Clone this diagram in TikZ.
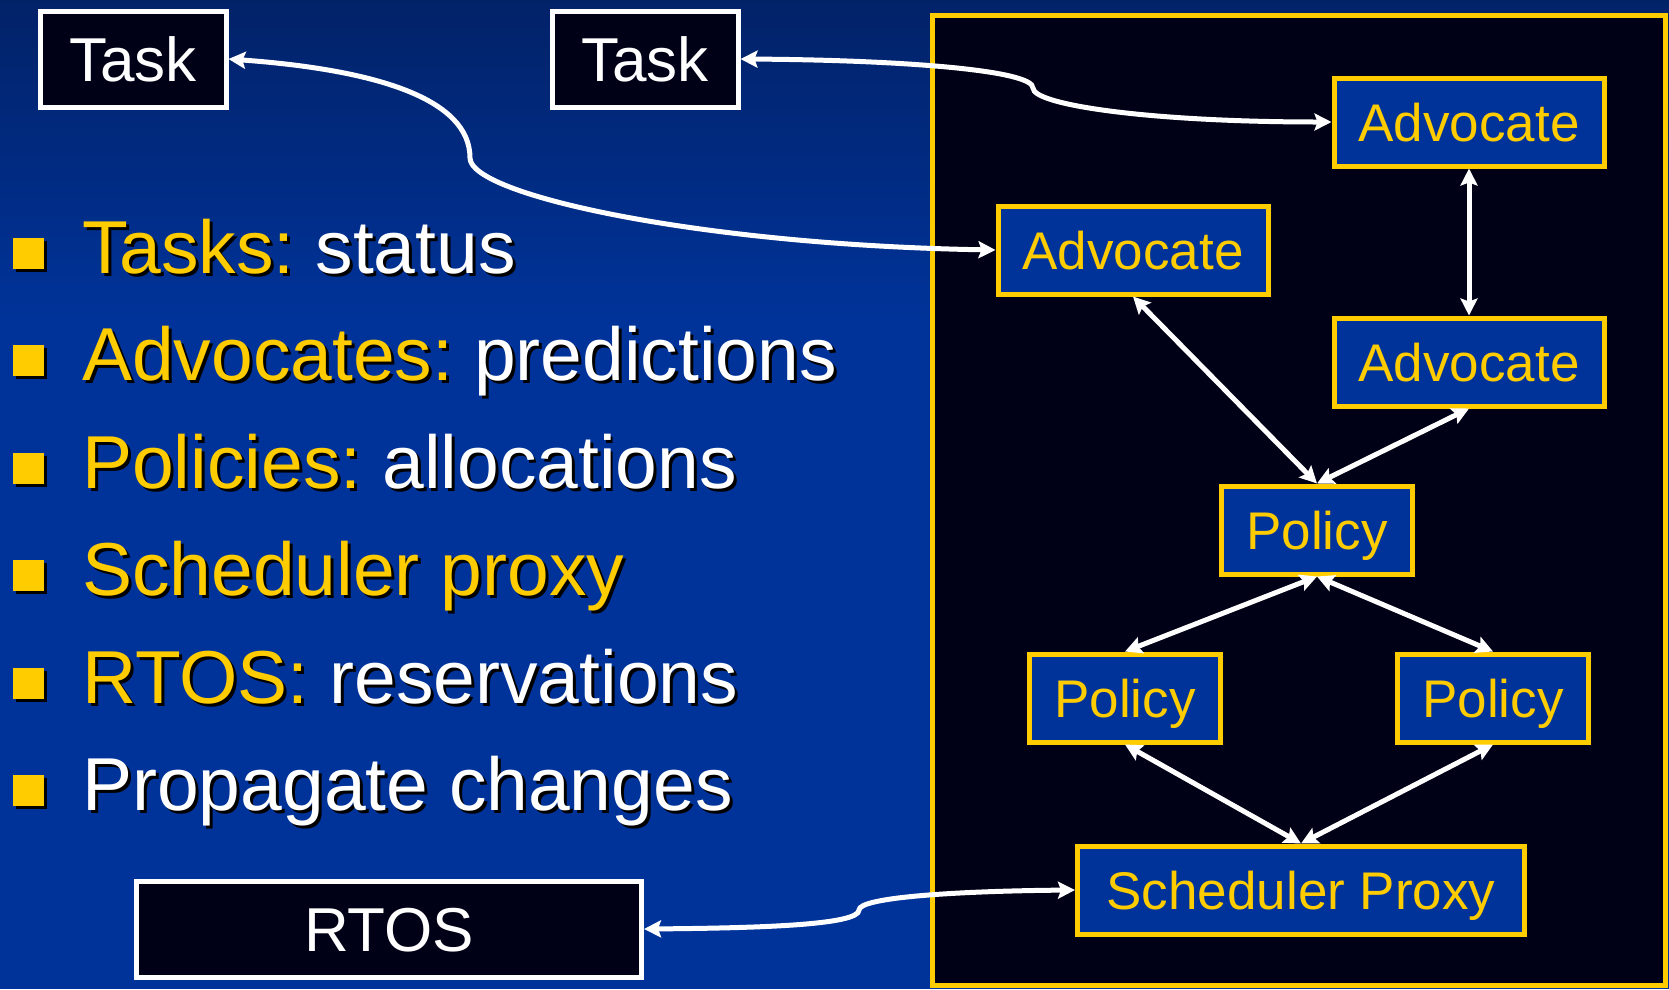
\documentclass[tikz,border=0pt]{standalone}
\usepackage{fontspec}
\setmainfont{Liberation Sans}
\usetikzlibrary{arrows.meta}

\definecolor{slideblue}{RGB}{0,51,153}
\definecolor{topblue}{RGB}{2,34,104}
\definecolor{slideyellow}{RGB}{255,204,0}
\definecolor{darkbg}{RGB}{0,0,22}

\tikzset{
  taskbox/.style={draw=white,line width=5pt,fill=darkbg,text=white,inner sep=0pt,
    font=\fontsize{62}{70}\selectfont,text height=44.4pt,text depth=0pt,minimum height=96pt},
  unitbox/.style={draw=slideyellow,line width=5pt,fill=slideblue,text=slideyellow,inner sep=0pt,
    font=\fontsize{53}{60}\selectfont,text height=38pt,text depth=0pt,minimum height=88pt},
  bulletsq/.style={fill=slideyellow,minimum width=31pt,minimum height=31pt,inner sep=0pt},
  itemtext/.style={anchor=base west,inner sep=0pt,text=white,font=\fontsize{75}{80}\selectfont},
  dblarrow/.style={white,line width=5pt,
    {Stealth[length=17pt,width=17pt,inset=3pt]}-{Stealth[length=17pt,width=17pt,inset=3pt]}}
}

\begin{document}
\begin{tikzpicture}[x=1pt,y=-1pt]
\useasboundingbox (0,0) rectangle (1669,989);
%slide background
\shade[top color=topblue,bottom color=slideblue] (0,0) rectangle (1669,320);
\fill[slideblue] (0,319) rectangle (1669,989);
\draw[slideyellow,line width=4.5pt,fill=darkbg] (932.5,15.5) rectangle (1665.5,985.5);

%bullet list on the left
\foreach \yy/\hi/\lo [count=\i] in {273/Tasks:/~status,380/Advocates:/~predictions,
  488/Policies:/~allocations,595/Scheduler proxy/{},703/RTOS:/~reservations,810/{}/Propagate changes}{
\node[bulletsq,fill=black] (bs\i) at (31,\yy-17) {};
\node[bulletsq] (b\i) at (28,\yy-20) {};
\node[itemtext,text=black] (s\i) at (85,\yy+3) {\hi\lo};
\node[itemtext] (t\i) at (82,\yy) {\textcolor{slideyellow}{\hi}\lo};
}

%tasks and rtos
\node[taskbox,minimum width=186pt] (task1) at (133,59) {Task};
\node[taskbox,minimum width=186pt] (task2) at (645,59) {Task};
\node[taskbox,minimum width=505pt] (rtos) at (389,929) {RTOS};

%advocates
\node[unitbox,minimum width=270pt] (advA) at (1469,122) {Advocate};
\node[unitbox,minimum width=270pt] (advB) at (1133,250) {Advocate};
\node[unitbox,minimum width=270pt] (advC) at (1469,362) {Advocate};

%policies
\node[unitbox,minimum width=191pt] (polA) at (1317,530) {Policy};
\node[unitbox,minimum width=191pt] (polB) at (1125,698) {Policy};
\node[unitbox,minimum width=191pt] (polC) at (1493,698) {Policy};

\node[unitbox,minimum width=447pt] (proxy) at (1301,890) {Scheduler Proxy};

\draw[dblarrow] (task1.east) .. controls (380,70) and (470,100) .. (470,158)
  .. controls (470,195) and (700,245) .. (advB.west);
\draw[dblarrow] (task2.east) .. controls (900,60) and (1033,70) .. (1033,88)
  .. controls (1033,105) and (1150,122) .. (advA.west);
\draw[dblarrow] (rtos.east) .. controls (760,928) and (859,925) .. (859,910)
  .. controls (859,897) and (960,891) .. (proxy.west);

\draw[dblarrow] (advA.south) -- (advC.north);
\draw[dblarrow] (advB.south) -- (polA.north);
\draw[dblarrow] (advC.south) -- (polA.north);
\draw[dblarrow] (polA.south) -- (polB.north);
\draw[dblarrow] (polA.south) -- (polC.north);
\draw[dblarrow] (polB.south) -- (proxy.north);
\draw[dblarrow] (polC.south) -- (proxy.north);

\end{tikzpicture}
\end{document}
